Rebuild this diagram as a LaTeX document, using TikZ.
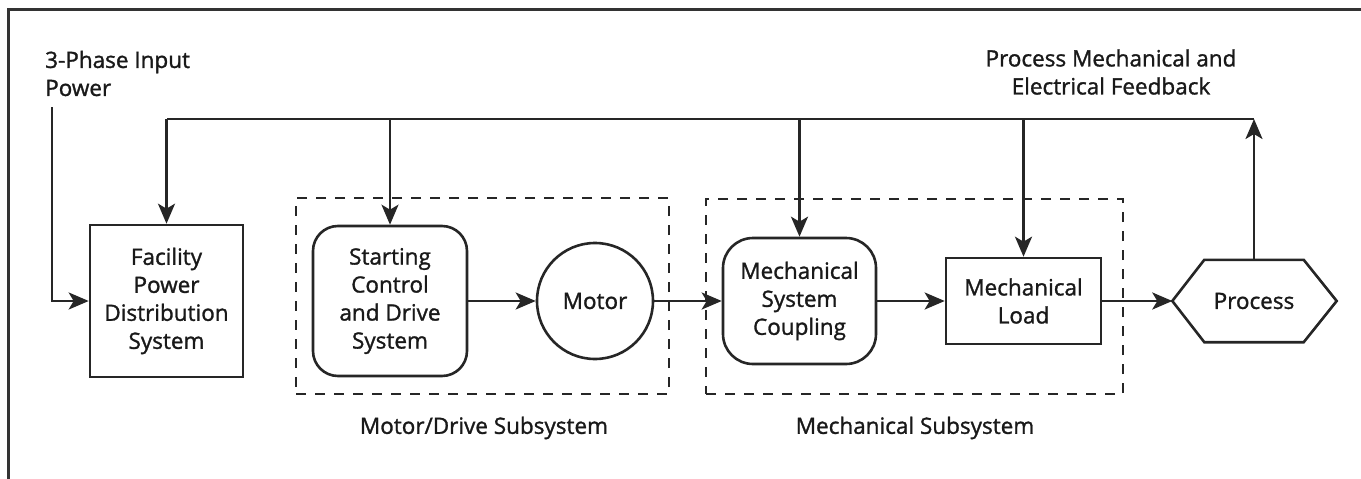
\documentclass[tikz,border=0pt]{standalone}
\usepackage{fontspec}
\setmainfont[FakeBold=1.3]{Open Sans}
\usetikzlibrary{arrows.meta}
\begin{document}
\begin{tikzpicture}[x=1pt,y=-1pt,
  every node/.style={font=\fontsize{22.5}{28}\selectfont, text=black!90, inner sep=0pt, align=center},
  blk/.style={draw=black!85, line width=2.6pt},
  ln/.style={draw=black!85, line width=2.6pt},
  arr/.style={draw=black!85, line width=2.6pt, -{Stealth[length=20pt,width=17pt,inset=5pt]}},
  dashbox/.style={draw=black!85, line width=2.4pt, dash pattern=on 10pt off 9pt},
  ]
\useasboundingbox (0,0) rectangle (1361,479);
% frame
\draw[line width=3pt, black!80] (8,479) -- (8,9) -- (1361,9);

% subsystem boxes
\node[dashbox, minimum width=373pt, minimum height=196pt] (mdsub) at (482.5,296) {};
\node[dashbox, minimum width=417pt, minimum height=195pt] (mesub) at (914.5,296.5) {};
\node (mdlab) at (484,428) {Motor/Drive Subsystem};
\node (melab) at (915,428) {Mechanical Subsystem};

% blocks
\node[blk, minimum width=153pt, minimum height=152pt] (fac) at (166.5,301) {Facility\\Power\\Distribution\\System};
\node[blk, rounded corners=25pt, minimum width=154pt, minimum height=150pt] (start) at (390,301) {Starting\\Control\\and Drive\\System};
\node[blk, circle, minimum size=116pt] (motor) at (595,301) {Motor};
\node[blk, rounded corners=30pt, minimum width=153pt, minimum height=126pt] (coup) at (799.5,301) {Mechanical\\System\\Coupling};
\node[blk, minimum width=155pt, minimum height=86pt] (load) at (1023.5,301) {Mechanical\\Load};
\node[minimum width=99pt, minimum height=82pt] (proc) at (1254,301) {Process};
\coordinate (procL) at ([xshift=-32pt]proc.west);
\coordinate (procR) at ([xshift=33pt]proc.east);
\draw[blk, line join=miter] (proc.north west) -- (proc.north east) -- (procR) -- (proc.south east) -- (proc.south west) -- (procL) -- cycle;

% labels
\node[anchor=west, align=left] (inlab) at (45,73.5) {3-Phase Input\\Power};
\node (fblab) at (1111,72) {Process Mechanical and\\Electrical Feedback};

% input power
\coordinate (inTop) at (52,107);
\draw[arr] (inTop) |- (fac.west);

% main flow
\draw[arr] (start.east) -- (motor.west);
\draw[arr] (motor.east) -- (coup.west);
\draw[arr] (coup.east) -- (load.west);
\draw[arr] (load.east) -- (procL);

% feedback
\coordinate (fbline) at (0,119);
\draw[arr] (proc.north) -- (proc.north |- fbline);
\draw[ln] (proc.north |- fbline) -- (fac.north |- fbline);
\draw[arr] (fac.north |- fbline) -- (fac.north);
\draw[arr] (start.north |- fbline) -- (start.north);
\draw[arr] (coup.north |- fbline) -- (coup.north);
\draw[arr] (load.north |- fbline) -- (load.north);
\end{tikzpicture}
\end{document}
